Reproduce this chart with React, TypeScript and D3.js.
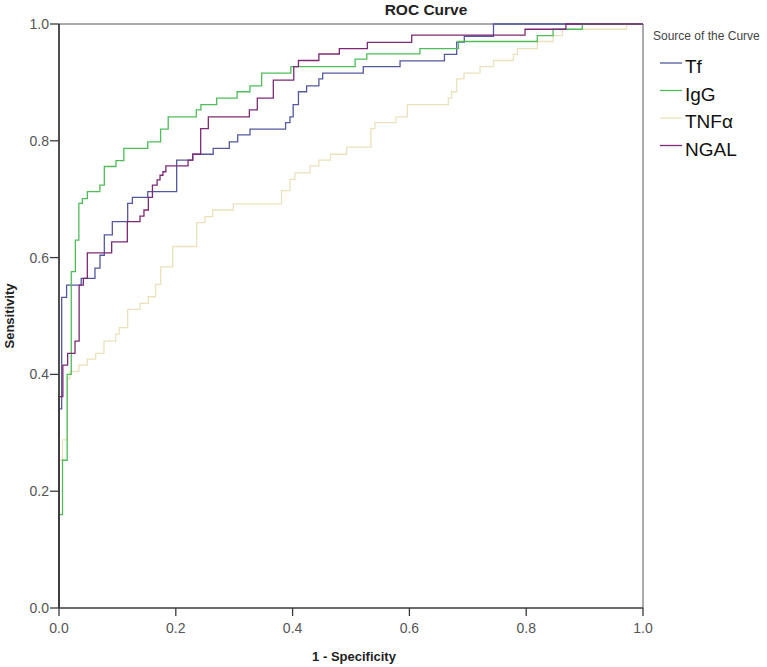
import React from "react";
import * as d3 from "d3";

// ROC points: [1 - specificity, sensitivity] after each step (step-after drawing)
const tfROC: [number, number][] = [
  [0, 0], [0, 0.341], [0.0046, 0.532], [0.013, 0.553], [0.038, 0.5645], [0.0616, 0.582],
  [0.0702, 0.604], [0.0776, 0.639], [0.0913, 0.6615], [0.1176, 0.693], [0.1256, 0.703],
  [0.152, 0.713], [0.2015, 0.767], [0.229, 0.777], [0.264, 0.787], [0.2916, 0.798],
  [0.306, 0.81], [0.327, 0.82], [0.388, 0.831], [0.3955, 0.841], [0.401, 0.862],
  [0.41, 0.884], [0.424, 0.894], [0.445, 0.906], [0.4515, 0.916], [0.521, 0.927],
  [0.584, 0.937], [0.66, 0.948], [0.681, 0.969], [0.694, 0.979], [0.744, 1], [1, 1],
];

const iggROC: [number, number][] = [
  [0, 0], [0, 0.16], [0.006, 0.253], [0.014, 0.4], [0.021, 0.576], [0.028, 0.63],
  [0.034, 0.693], [0.04, 0.701], [0.0485, 0.713], [0.07, 0.724], [0.0776, 0.756],
  [0.0976, 0.766], [0.111, 0.787], [0.152, 0.798], [0.174, 0.82], [0.187, 0.841],
  [0.235, 0.853], [0.243, 0.862], [0.27, 0.873], [0.305, 0.884], [0.327, 0.894],
  [0.347, 0.916], [0.397, 0.927], [0.507, 0.94], [0.527, 0.949], [0.618, 0.958],
  [0.684, 0.97], [0.819, 0.98], [0.846, 0.991], [0.896, 1], [1, 1],
];

const tnfROC: [number, number][] = [
  [0, 0], [0, 0.253], [0.006, 0.288], [0.0143, 0.393], [0.0188, 0.405], [0.034, 0.416],
  [0.0485, 0.426], [0.0628, 0.436], [0.077, 0.457], [0.097, 0.469], [0.103, 0.48],
  [0.1176, 0.5115], [0.1387, 0.5217], [0.153, 0.533], [0.1655, 0.554], [0.174, 0.584],
  [0.1946, 0.619], [0.2357, 0.66], [0.25, 0.67], [0.263, 0.6815], [0.2985, 0.692],
  [0.381, 0.7146], [0.3955, 0.734], [0.404, 0.745], [0.43, 0.757], [0.445, 0.767],
  [0.465, 0.777], [0.4926, 0.789], [0.534, 0.821], [0.541, 0.831], [0.577, 0.841],
  [0.5965, 0.862], [0.6667, 0.873], [0.6724, 0.884], [0.681, 0.906], [0.6935, 0.916],
  [0.721, 0.927], [0.744, 0.9375], [0.778, 0.948], [0.785, 0.958], [0.819, 0.97],
  [0.846, 0.98], [0.862, 0.991], [0.972, 1], [1, 1],
];

const ngalROC: [number, number][] = [
  [0, 0], [0, 0.362], [0.0066, 0.416], [0.0148, 0.436], [0.0274, 0.457], [0.0345, 0.553],
  [0.0417, 0.5645], [0.0485, 0.608], [0.0902, 0.627], [0.117, 0.6615], [0.1387, 0.671],
  [0.1455, 0.6815], [0.153, 0.703], [0.16, 0.724], [0.168, 0.733], [0.173, 0.741],
  [0.178, 0.747], [0.183, 0.757], [0.221, 0.767], [0.229, 0.777], [0.2426, 0.821],
  [0.2557, 0.841], [0.326, 0.853], [0.3396, 0.873], [0.367, 0.904], [0.402, 0.927],
  [0.41, 0.9375], [0.445, 0.9486], [0.48, 0.958], [0.528, 0.9687], [0.604, 0.981],
  [0.798, 0.991], [0.868, 1], [1, 1],
];

const seriesNames = ["Tf", "IgG", "TNFα", "NGAL"];
const seriesColors = ["#53589f", "#4fbd5a", "#ebe2bb", "#7c2a74"];
const seriesData = [tfROC, iggROC, tnfROC, ngalROC];
const tickValues = [0, 0.2, 0.4, 0.6, 0.8, 1.0];

const W = 767;
const H = 667;
const M = { left: 59, right: 643, top: 24, bottom: 608 };
const FONT = "'Liberation Sans', Arial, sans-serif";

export default function App() {
  const x = d3.scaleLinear().domain([0, 1]).range([M.left, M.right]);
  const y = d3.scaleLinear().domain([0, 1]).range([M.bottom, M.top]);
  const line = d3
    .line<[number, number]>()
    .x((d) => x(d[0]))
    .y((d) => y(d[1]))
    .curve(d3.curveStepAfter);

  const order = [2, 0, 1, 3];

  return (
    <div>
      <style>{`body{margin:0;background:#fff}`}</style>
      <svg width={W} height={H} style={{ display: "block", background: "#fff" }}>
        <line x1={M.left} x2={M.right} y1={M.top} y2={M.top} stroke="#555" strokeWidth={1} />
        <line x1={M.right} x2={M.right} y1={M.top} y2={M.bottom} stroke="#555" strokeWidth={1} />

        {order.map((i) => (
          <path
            key={seriesNames[i]}
            d={line(seriesData[i]) || ""}
            fill="none"
            stroke={seriesColors[i]}
            strokeWidth={1.3}
          />
        ))}

        <line x1={M.left} x2={M.left} y1={M.top} y2={M.bottom} stroke="#3a3a3a" strokeWidth={1.8} />
        {tickValues.map((t) => (
          <g key={"y" + t}>
            <line x1={M.left - 9} x2={M.left} y1={y(t)} y2={y(t)} stroke="#3a3a3a" strokeWidth={1.3} />
            <text x={M.left - 10} y={y(t) + 5} textAnchor="end" fontFamily={FONT} fontSize={14} fill="#555">
              {t.toFixed(1)}
            </text>
          </g>
        ))}

        <line x1={M.left} x2={M.right} y1={M.bottom} y2={M.bottom} stroke="#3a3a3a" strokeWidth={1.3} />
        {tickValues.map((t) => (
          <g key={"x" + t}>
            <line x1={x(t)} x2={x(t)} y1={M.bottom} y2={M.bottom + 8} stroke="#3a3a3a" strokeWidth={1.3} />
            <text x={x(t)} y={M.bottom + 25} textAnchor="middle" fontFamily={FONT} fontSize={14} fill="#555">
              {t.toFixed(1)}
            </text>
          </g>
        ))}

        <text x={354} y={661} textAnchor="middle" fontFamily={FONT} fontSize={13} fontWeight="bold" fill="#222">
          1 - Specificity
        </text>
        <text
          transform={`translate(14, ${(M.top + M.bottom) / 2}) rotate(-90)`}
          textAnchor="middle"
          fontFamily={FONT}
          fontSize={13}
          fontWeight="bold"
          fill="#222"
        >
          Sensitivity
        </text>

        <text x={426} y={15} textAnchor="middle" fontFamily={FONT} fontSize={15.5} fontWeight="bold" fill="#222">
          ROC Curve
        </text>

        <text x={653} y={40} fontFamily={FONT} fontSize={12} fill="#444">
          Source of the Curve
        </text>
        {seriesNames.map((name, i) => (
          <g key={name}>
            <line
              x1={660}
              x2={682}
              y1={63 + i * 27.5}
              y2={63 + i * 27.5}
              stroke={seriesColors[i]}
              strokeWidth={1.3}
            />
            <text x={685} y={73 + i * 27.5} fontFamily={FONT} fontSize={19} fill="#111">
              {name}
            </text>
          </g>
        ))}
      </svg>
    </div>
  );
}
